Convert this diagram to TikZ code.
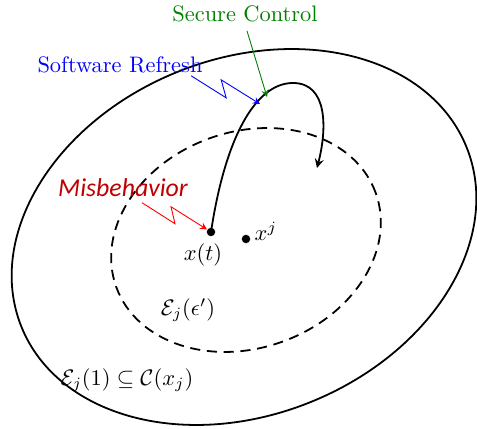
\documentclass[tikz,border=0pt]{standalone}
\usepackage{amsmath}
\usepackage{fontspec}
\usepackage{tikz}
\usetikzlibrary{positioning}
\newfontfamily\calibrifont{Carlito}
\definecolor{misred}{RGB}{192,0,0}
\definecolor{ctrlgreen}{RGB}{0,128,0}

\begin{document}
\begin{tikzpicture}[
    x=0.446pt, y=0.446pt,
    set/.style={thick},
    bound/.style={thick, dash pattern=on 4.5pt off 3pt},
    dot/.style={circle, fill, inner sep=0pt, minimum size=3.8pt},
    traj/.style={->, >=stealth, thick},
    bolt/.style={->, >=stealth},
    lbl/.style={inner sep=1pt}
  ]
    \useasboundingbox (0,0) rectangle (477,429);

    % sets
    \draw[set, rotate around={22:(244,192)}] (244,192) ellipse (240 and 178);
    \draw[bound, rotate around={20:(246,189)}] (246,189) ellipse (138 and 108);

    % states
    \node[dot] (xt) at (211,197) {};
    \node[dot] (xj) at (246,190) {};
    \node[lbl, below=2pt of xt, xshift=-3.6pt] (xtlabel) {$x(t)$};
    \node[lbl, anchor=south west] (xjlabel) at (252,186) {$x^j$};

    \node[lbl] (eps) at (188,119) {$\mathcal{E}_j(\epsilon')$};
    \node[lbl] (one) at (127,49) {$\mathcal{E}_j(1) \subseteq \mathcal{C}(x_j)$};

    % trajectory
    \coordinate (top) at (293,346);
    \coordinate (end) at (317,261);
    \draw[traj] (xt.center) .. controls (225,290) and (255,346) .. (top)
                            .. controls (328,346) and (327,300) .. (end);
    \coordinate (hit) at (260,325);
    \coordinate (ctrl) at (267,332);

    % events
    \node[lbl, text=blue] (refresh) at (120,364) {Software Refresh};
    \node[lbl, text=ctrlgreen] (secure) at (245,415) {Secure Control};
    \node[lbl, text=misred, font=\calibrifont\itshape\fontsize{11.5}{13}\selectfont] (mis) at (123,241) {Misbehavior};

    \draw[bolt, blue] (refresh.south east) ++(-14,0) -- ++(35,-22) -- ++(-5,18) -- (hit);
    \draw[bolt, ctrlgreen] (secure.south) ++(2,-6) -- (ctrl);
    \draw[bolt, red] (mis.south) ++(19,-3) -- ++(33,-21) -- ++(-4,17) -- (xt);
  \end{tikzpicture}
\end{document}
